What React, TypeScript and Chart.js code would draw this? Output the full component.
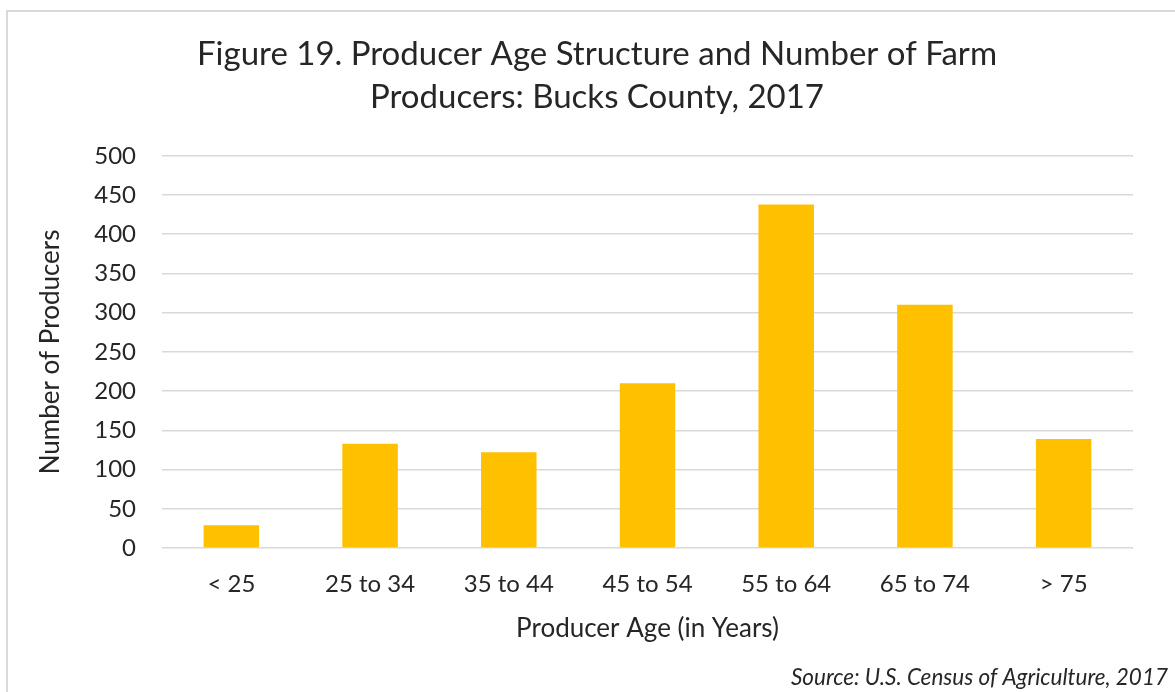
import React, { useEffect, useRef } from "react";
import { Chart, registerables } from "chart.js";

Chart.register(...registerables);

const categories = ["< 25", "25 to 34", "35 to 44", "45 to 54", "55 to 64", "65 to 74", "> 75"];
const producers = [29, 133, 122, 210, 438, 310, 139];
const titleLines = ["Figure 19. Producer Age Structure and Number of Farm", "Producers: Bucks County, 2017"];
const sourceText = "Source: U.S. Census of Agriculture, 2017";

const FONT = "Lato, 'Open Sans', sans-serif";

const sourcePlugin = {
  id: "sourceNote",
  afterDraw(chart: any) {
    const ctx = chart.ctx;
    ctx.save();
    ctx.font = `italic 22.5px ${FONT}`;
    ctx.fillStyle = "#262626";
    ctx.textAlign = "right";
    ctx.textBaseline = "middle";
    ctx.fillText(sourceText, chart.width - 7, 678);
    ctx.restore();
  },
};

export default function App() {
  const ref = useRef<HTMLCanvasElement | null>(null);
  useEffect(() => {
    if (!ref.current) return;
    const chart = new Chart(ref.current, {
      type: "bar",
      data: {
        labels: categories,
        datasets: [
          {
            label: "Number of Producers",
            data: producers,
            backgroundColor: "#FFC000",
            borderWidth: 0,
            categoryPercentage: 1,
            barPercentage: 0.4,
            yAxisID: "y",
          },
        ],
      },
      plugins: [sourcePlugin],
      options: {
        responsive: false,
        animation: false,
        layout: { padding: { left: 35, right: 16, top: 33, bottom: 0 } },
        plugins: {
          legend: { display: false },
          tooltip: { enabled: false },
          title: {
            display: true,
            text: titleLines,
            color: "#262626",
            font: { family: FONT, size: 33, weight: "normal", lineHeight: 1.3 },
            padding: { top: 0, bottom: 37 },
          },
        },
        scales: {
          x: {
            grid: { display: false, drawTicks: false },
            border: { display: false },
            ticks: {
              color: "#262626",
              padding: 22,
              font: { family: FONT, size: 24 },
            },
            title: {
              display: true,
              text: "Producer Age (in Years)",
              color: "#262626",
              font: { family: FONT, size: 26 },
              padding: { top: 0, bottom: 48 },
            },
            afterFit(scale: any) {
              scale.height = 144;
            },
          },
          y: {
            min: 0,
            max: 500,
            ticks: {
              stepSize: 50,
              color: "#262626",
              padding: 26,
              font: { family: FONT, size: 24 },
            },
            grid: { color: "#d9d9d9", lineWidth: 1.5, drawTicks: false },
            border: { display: false },
            title: {
              display: true,
              text: "Number of Producers",
              color: "#262626",
              font: { family: FONT, size: 26 },
              padding: { top: 0, bottom: 0 },
            },
            afterFit(scale: any) {
              scale.width = 127;
            },
          },
          y2: {
            type: "linear",
            position: "right",
            display: true,
            grid: { display: false, drawTicks: false },
            border: { display: false },
            ticks: { display: false },
            afterFit(scale: any) {
              scale.width = 26;
            },
          },
        },
      },
    });
    return () => chart.destroy();
  }, []);

  return (
    <div style={{ position: "fixed", left: 0, top: 0, width: 1175, height: 692, overflow: "hidden", background: "#fff" }}>
      <div
        style={{
          position: "absolute",
          left: 6,
          top: 10,
          width: 1400,
          height: 900,
          border: "2px solid #d9d9d9",
          boxSizing: "border-box",
        }}
      />
      <canvas ref={ref} width={1175} height={692} style={{ position: "absolute", left: 0, top: 0 }} />
    </div>
  );
}
